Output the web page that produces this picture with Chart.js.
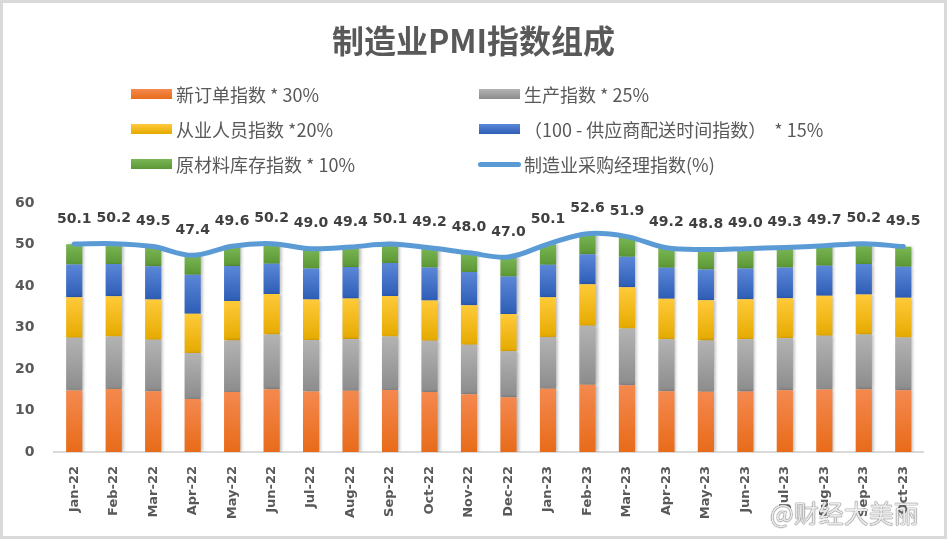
<!DOCTYPE html>
<html>
<head>
<meta charset="utf-8">
<script src="https://cdn.jsdelivr.net/npm/chart.js@4"></script>
<style>
  body { margin: 0; background: #fff; }
  #wrap { position: relative; width: 947px; height: 539px; overflow: hidden; font-family: "Noto Sans CJK SC", "Noto Sans", sans-serif; }
  #marco { position: absolute; inset: 0; border: 3px solid #d9d9d9; pointer-events: none; }
  #titulo { position: absolute; left: 0; width: 947px; top: 19px; line-height: 40px; text-align: center; font-size: 32px; font-weight: bold; color: #595959; }
  .item { position: absolute; font-size: 18px; color: #595959; line-height: 24px; white-space: pre; }
  .caja { position: absolute; width: 41px; height: 10px; }
  .linea { position: absolute; width: 43px; height: 5px; border-radius: 3px; background: #5b9bd5; }
  #marca { position: absolute; left: 770px; top: 494px; font-size: 25px; color: rgba(255,255,255,0.85);
           text-shadow: 0 0 1px #777, 0 0 1px #777, 0 0 1px #777; }
  canvas { position: absolute; left: 0; top: 0; }
</style>
</head>
<body>
<div id="wrap">
  <canvas id="grafico" width="947" height="539"></canvas>
  <div id="titulo">制造业PMI指数组成</div>
  <div id="leyenda"></div>
  <div id="marca">@财经大美丽</div>
  <div id="marco"></div>
</div>
<script>
const meses = ['Jan-22','Feb-22','Mar-22','Apr-22','May-22','Jun-22','Jul-22','Aug-22','Sep-22','Oct-22','Nov-22','Dec-22',
               'Jan-23','Feb-23','Mar-23','Apr-23','May-23','Jun-23','Jul-23','Aug-23','Sep-23','Oct-23'];

// aportes de cada componente (ya ponderados)
const nuevosPedidos = [14.79,15.21,14.64,12.78,14.46,15.12,14.55,14.76,14.94,14.43,13.92,13.17,15.27,16.23,16.08,14.64,14.49,14.58,14.85,15.06,15.15,14.85];
const produccion    = [12.73,12.60,12.38,11.10,12.43,13.20,12.45,12.45,12.88,12.40,11.95,11.15,12.45,14.18,13.65,12.55,12.40,12.58,12.55,12.98,13.18,12.73];
const empleo        = [9.78,9.72,9.72,9.44,9.52,9.74,9.72,9.78,9.80,9.66,9.48,8.96,9.54,10.04,9.94,9.76,9.68,9.64,9.62,9.60,9.62,9.60];
const entregas      = [7.86,7.77,8.03,9.42,8.39,7.31,7.49,7.58,7.94,7.94,8.00,8.99,7.86,7.20,7.38,7.46,7.43,7.44,7.43,7.26,7.38,7.47];
const inventario    = [4.91,4.81,4.73,4.65,4.79,4.81,4.79,4.80,4.76,4.77,4.67,4.61,4.96,4.98,4.83,4.79,4.76,4.78,4.82,4.84,4.85,4.82];
const pmi           = [50.1,50.2,49.5,47.4,49.6,50.2,49.0,49.4,50.1,49.2,48.0,47.0,50.1,52.6,51.9,49.2,48.8,49.0,49.3,49.7,50.2,49.5];

const series = [nuevosPedidos, produccion, empleo, entregas, inventario];
const nombres = ['新订单指数 * 30%', '生产指数 * 25%', '从业人员指数 *20%', '（100 - 供应商配送时间指数）  * 15%', '原材料库存指数 * 10%'];
const nombreLinea = '制造业采购经理指数(%)';
const colores = [['#f4894f','#e86b19'], ['#b3b3b3','#8c8c8c'], ['#ffca3a','#e5aa00'], ['#5b87d8','#2d5db6'], ['#7bb655','#5c9735']];

function degradado(d) {
    return function (context) {
        const chart = context.chart;
        if (!chart.chartArea || context.type !== 'data') return colores[d][1];
        const i = context.dataIndex;
        let inicio = 0;
        for (let k = 0; k < d; k++) inicio += series[k][i];
        const fin = inicio + series[d][i];
        const y = chart.scales.y;
        const g = chart.ctx.createLinearGradient(0, y.getPixelForValue(fin), 0, y.getPixelForValue(inicio));
        g.addColorStop(0, colores[d][0]);
        g.addColorStop(1, colores[d][1]);
        return g;
    };
}

// sombra suave de las barras
const sombra = {
    id: 'sombra',
    beforeDatasetDraw(chart, args) {
        if (args.meta.type !== 'bar') return;
        const ctx = chart.ctx;
        ctx.save();
        ctx.shadowColor = 'rgba(0,0,0,0.28)';
        ctx.shadowBlur = 3;
        ctx.shadowOffsetX = 2;
    },
    afterDatasetDraw(chart, args) {
        if (args.meta.type !== 'bar') return;
        chart.ctx.restore();
    }
};

// etiquetas sobre la linea
const etiquetasPmi = {
    id: 'etiquetasPmi',
    afterDatasetsDraw(chart) {
        const meta = chart.getDatasetMeta(5);
        const ctx = chart.ctx;
        ctx.save();
        ctx.font = 'bold 14px "DejaVu Sans"';
        ctx.fillStyle = '#404040';
        ctx.textAlign = 'center';
        ctx.textBaseline = 'middle';
        meta.data.forEach((p, i) => {
            ctx.fillText(pmi[i].toFixed(1), p.x, p.y - 25);
        });
        ctx.restore();
    }
};

const datasets = series.map((s, d) => ({
    type: 'bar',
    label: nombres[d],
    data: s,
    backgroundColor: degradado(d),
    stack: 'componentes',
    order: 1,
    barPercentage: 0.41,
    categoryPercentage: 1
}));
datasets.push({
    type: 'line',
    label: nombreLinea,
    data: pmi,
    stack: 'pmi',
    order: 0,
    borderColor: '#5b9bd5',
    borderWidth: 5,
    borderCapStyle: 'round',
    pointRadius: 0,
    tension: 0.35,
    fill: false
});

new Chart(document.querySelector('#grafico'), {
    type: 'bar',
    data: { labels: meses, datasets: datasets },
    plugins: [sombra, etiquetasPmi],
    options: {
        responsive: false,
        animation: false,
        layout: { padding: { top: 203, left: -5, right: 24, bottom: 0 } },
        plugins: { legend: { display: false }, tooltip: { enabled: false } },
        scales: {
            x: {
                stacked: true,
                grid: { display: false },
                border: { display: true, color: '#d9d9d9', width: 2 },
                ticks: { color: '#595959', font: { family: 'DejaVu Sans', weight: 'bold', size: 13 }, minRotation: 90, maxRotation: 90, padding: 6 },
                afterFit: (scale) => { scale.height = 87; }
            },
            y: {
                stacked: true,
                min: 0,
                max: 60,
                grid: { display: false, drawTicks: false },
                border: { display: false },
                ticks: { stepSize: 10, color: '#595959', font: { family: 'DejaVu Sans', weight: 'bold', size: 14 }, padding: 20 }
            }
        }
    }
});

// leyenda en html, dos columnas
const leyenda = document.querySelector('#leyenda');
const posiciones = [[131, 94], [479, 94], [131, 129], [479, 129], [131, 164]];
series.forEach((s, d) => {
    const [x, y] = posiciones[d];
    leyenda.innerHTML += `<div class="caja" style="left:${x}px;top:${y - 5}px;background:linear-gradient(${colores[d][0]},${colores[d][1]})"></div>`;
    leyenda.innerHTML += `<div class="item" style="left:${x + 45}px;top:${y - 12}px">${nombres[d]}</div>`;
});
leyenda.innerHTML += `<div class="linea" style="left:478px;top:162px"></div>`;
leyenda.innerHTML += `<div class="item" style="left:524px;top:152px">${nombreLinea}</div>`;
</script>
</body>
</html>
